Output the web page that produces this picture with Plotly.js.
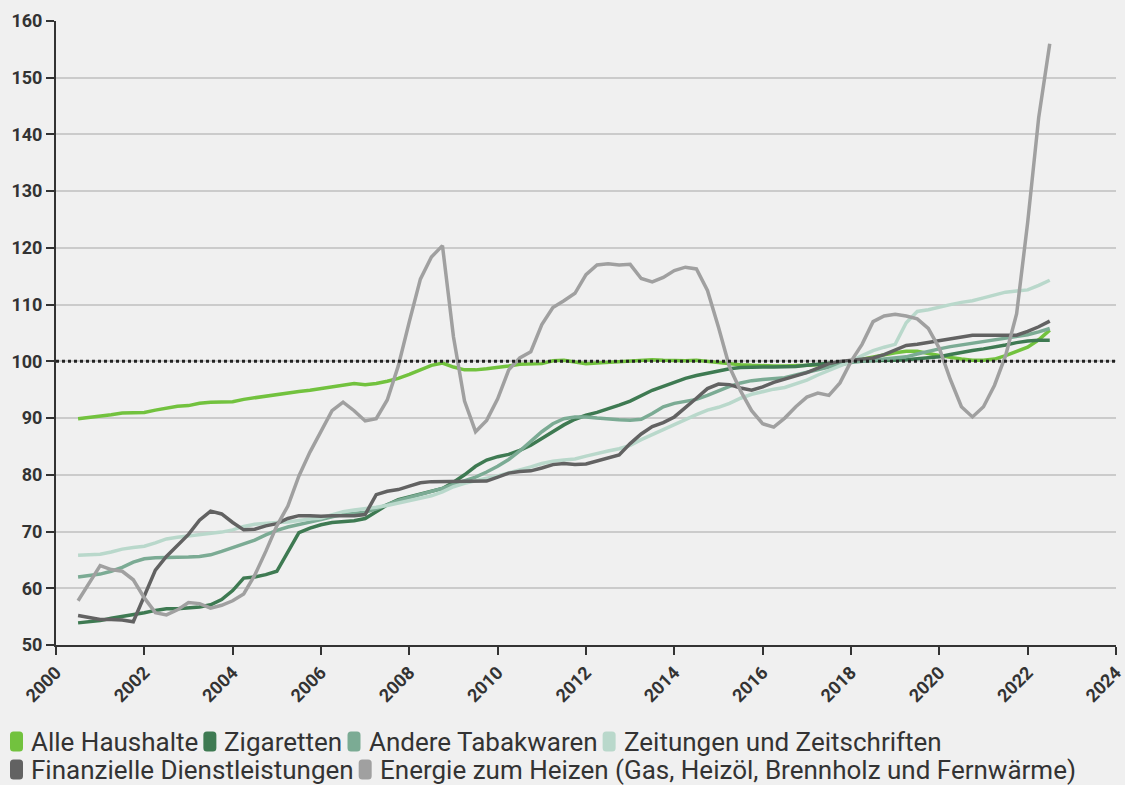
<!DOCTYPE html>
<html>
<head>
<meta charset="utf-8">
<script src="https://cdn.plot.ly/plotly-3.0.1.min.js"></script>
<style>
html,body{margin:0;padding:0;background:#f0f0f0;}
#chart{width:1125px;height:785px;}
</style>
</head>
<body>
<div id="chart"></div>
<script>
// Quarterly observations, first at 2000.5, last at 2022.5
const startYear = 2000.5;
const stepYears = 0.25;

const seriesNames = [
  "Alle Haushalte",
  "Zigaretten",
  "Andere Tabakwaren",
  "Zeitungen und Zeitschriften",
  "Finanzielle Dienstleistungen",
  "Energie zum Heizen (Gas, Heizöl, Brennholz und Fernwärme)"
];

const alleHaushalte = [
  89.9,90.1,90.3,90.6,90.9,91.0,91.0,91.4,91.8,92.1,92.2,92.6,92.8,92.8,92.9,93.3,93.6,93.9,94.1,94.5,
  94.7,94.9,95.2,95.6,95.9,96.1,95.9,96.1,96.5,97.0,97.7,98.5,99.3,99.7,99.0,98.5,98.5,98.7,98.9,99.2,
  99.5,99.5,99.6,100.1,100.2,99.9,99.6,99.7,99.8,99.9,100.0,100.2,100.3,100.2,100.1,100.1,100.2,100.0,99.7,99.5,
  99.4,99.3,99.2,99.2,99.2,99.2,99.3,99.4,99.6,99.8,100.0,100.4,100.8,101.2,101.5,101.8,101.8,101.4,101.0,100.7,
  100.4,100.2,100.2,100.4,101.0,101.8,102.5,103.8,105.5
];

const zigaretten = [
  53.9,54.1,54.3,54.7,55.0,55.3,55.7,56.1,56.4,56.4,56.5,56.7,57.1,58.0,59.6,61.8,62.0,62.4,63.0,66.5,
  69.8,70.6,71.2,71.6,71.8,71.9,72.3,73.5,74.7,75.6,76.1,76.6,77.0,77.6,78.7,80.0,81.5,82.6,83.2,83.6,
  84.3,85.2,86.4,87.6,88.8,89.8,90.5,91.0,91.6,92.3,93.0,94.0,94.9,95.6,96.3,97.0,97.5,97.9,98.3,98.7,
  98.9,99.0,99.0,99.0,99.0,99.1,99.3,99.5,99.7,99.9,100.0,100.1,100.1,100.2,100.2,100.3,100.5,100.6,100.8,101.2,
  101.6,101.9,102.2,102.5,102.9,103.3,103.6,103.7,103.7
];

const andereTabakwaren = [
  62.0,62.2,62.5,63.0,63.7,64.6,65.2,65.4,65.4,65.4,65.5,65.6,65.9,66.5,67.2,67.8,68.5,69.4,70.2,70.8,
  71.2,71.6,72.1,72.6,73.0,73.2,73.4,74.0,74.8,75.5,76.0,76.5,77.0,77.6,78.3,78.9,79.6,80.5,81.5,82.7,
  84.2,85.9,87.6,89.0,89.9,90.2,90.2,90.0,89.8,89.7,89.6,89.8,90.8,92.0,92.6,93.0,93.3,94.0,94.8,95.6,
  96.2,96.6,96.8,96.9,97.1,97.6,98.1,98.6,99.0,99.4,99.8,100.0,100.2,100.4,100.6,100.8,101.3,101.8,102.2,102.6,
  102.9,103.2,103.5,103.8,104.1,104.4,104.7,105.2,105.8
];

const zeitungen = [
  65.8,65.9,66.0,66.4,66.9,67.2,67.4,68.0,68.7,69.0,69.2,69.5,69.7,69.9,70.3,70.9,71.3,71.5,71.6,71.7,
  72.0,72.2,72.4,73.0,73.5,73.8,74.0,74.3,74.6,75.0,75.5,75.9,76.3,77.0,77.9,78.5,79.0,79.4,79.8,80.3,
  80.8,81.4,82.0,82.4,82.6,82.8,83.3,83.8,84.2,84.6,85.2,86.2,87.1,87.9,88.8,89.8,90.6,91.4,91.9,92.6,
  93.5,94.2,94.7,95.1,95.4,96.0,96.7,97.6,98.4,99.2,100.0,101.0,101.9,102.5,103.0,106.8,108.8,109.1,109.6,110.0,
  110.4,110.7,111.2,111.7,112.2,112.4,112.6,113.4,114.3
];

const finanzielle = [
  55.2,54.9,54.5,54.5,54.4,54.1,58.5,63.2,65.6,67.5,69.5,72.0,73.6,73.1,71.6,70.3,70.4,71.0,71.4,72.3,
  72.8,72.8,72.7,72.8,72.8,72.8,73.0,76.5,77.1,77.4,78.0,78.6,78.8,78.8,78.8,78.8,78.8,78.9,79.6,80.3,
  80.6,80.7,81.2,81.8,82.0,81.8,81.9,82.4,83.0,83.5,85.5,87.2,88.5,89.2,90.2,91.8,93.5,95.2,96.0,95.9,
  95.3,94.9,95.5,96.3,96.9,97.4,98.0,98.8,99.6,100.0,100.2,100.3,100.6,101.2,102.0,102.8,103.0,103.3,103.6,103.9,
  104.3,104.6,104.6,104.6,104.5,104.6,105.3,106.1,107.1
];

const energie = [
  57.8,61.0,64.0,63.3,63.0,61.5,58.3,55.7,55.3,56.2,57.5,57.3,56.5,57.0,57.8,59.0,62.3,66.5,71.0,74.5,
  79.8,84.0,87.8,91.3,92.8,91.3,89.5,89.9,93.2,99.2,107.0,114.5,118.4,120.4,104.3,93.0,87.6,89.6,93.4,98.5,
  100.6,101.7,106.5,109.5,110.7,112.0,115.3,117.0,117.2,117.0,117.1,114.6,114.0,114.8,116.0,116.6,116.3,112.5,106.0,99.0,
  94.8,91.3,89.0,88.4,90.0,92.0,93.7,94.4,94.0,96.2,100.0,103.0,107.0,108.0,108.3,108.0,107.5,105.8,102.3,96.8,
  92.0,90.2,92.0,95.8,101.0,108.4,124.5,143.0,156.0
];

const seriesColors = ["#72c23e", "#3e7a52", "#7bab94", "#b9d8cb", "#626262", "#a0a0a0"];

const xRange = [2000, 2024];
const xTickStart = 2000, xTickStep = 2;
const yRange = [50, 160];
const yTickStep = 10;

const allSeries = [alleHaushalte, zigaretten, andereTabakwaren, zeitungen, finanzielle, energie];
const xs = alleHaushalte.map((_, i) => startYear + i * stepYears);

const traces = allSeries.map((vals, i) => ({
  type: 'scatter',
  mode: 'lines',
  name: seriesNames[i],
  x: xs,
  y: vals,
  line: {color: seriesColors[i], width: 3.5, shape: 'linear'},
  showlegend: false,
  hoverinfo: 'x+y+name'
}));

// geometry (pixels)
const W = 1125, H = 785;
const M = {l: 56, r: 9, t: 21, b: 140};
const plotW = W - M.l - M.r, plotH = H - M.t - M.b;
const px2paperX = p => (p - M.l) / plotW;
const px2paperY = p => (H - M.b - p) / plotH;

// custom legend (wrapping rows, rounded square swatches)
const legendFont = 'Roboto';
const legendSize = 26;
const cv = document.createElement('canvas').getContext('2d');
cv.font = legendSize + 'px ' + legendFont;
const rowsY = [741.5, 769.5];
const rowsItems = [[0,1,2,3],[4,5]];
const annotations = [];
const shapes = [];
rowsItems.forEach((row, r) => {
  let x = 10;
  row.forEach(idx => {
    const sw = 13, sh = 20, rad = 3.5;
    const cy = rowsY[r];
    const x0 = x, x1 = x + sw, y0 = cy - sh/2, y1 = cy + sh/2;
    const X = px2paperX, Y = px2paperY;
    const path = `M ${X(x0+rad)} ${Y(y0)} L ${X(x1-rad)} ${Y(y0)} Q ${X(x1)} ${Y(y0)} ${X(x1)} ${Y(y0+rad)} ` +
                 `L ${X(x1)} ${Y(y1-rad)} Q ${X(x1)} ${Y(y1)} ${X(x1-rad)} ${Y(y1)} ` +
                 `L ${X(x0+rad)} ${Y(y1)} Q ${X(x0)} ${Y(y1)} ${X(x0)} ${Y(y1-rad)} ` +
                 `L ${X(x0)} ${Y(y0+rad)} Q ${X(x0)} ${Y(y0)} ${X(x0+rad)} ${Y(y0)} Z`;
    shapes.push({type: 'path', xref: 'paper', yref: 'paper', path: path,
                 fillcolor: seriesColors[idx], line: {width: 0}});
    const tx = x1 + 7;
    annotations.push({xref: 'paper', yref: 'paper', x: px2paperX(tx), y: px2paperY(cy),
      xanchor: 'left', yanchor: 'middle', showarrow: false, text: seriesNames[idx],
      font: {family: legendFont, size: legendSize, color: '#333333'}, borderpad: 0});
    const tw = cv.measureText(seriesNames[idx]).width;
    x = tx + tw + 6;
  });
});

// reference line at 100
shapes.push({type: 'line', xref: 'paper', yref: 'y', x0: 0, x1: 1, y0: 100, y1: 100,
  line: {color: '#222222', width: 3, dash: 'dot'}, layer: 'above'});

const tickFont = {family: 'Roboto', size: 18, color: '#333333', weight: 'bold'};

const layout = {
  width: W, height: H,
  margin: M,
  paper_bgcolor: '#f0f0f0',
  plot_bgcolor: '#f0f0f0',
  showlegend: false,
  font: {family: 'Roboto', color: '#333333'},
  xaxis: {
    range: xRange,
    tickmode: 'linear', tick0: xTickStart, dtick: xTickStep,
    tickformat: 'd',
    tickangle: -45,
    showgrid: false, zeroline: false,
    showline: true, linecolor: '#333333', linewidth: 2,
    ticks: 'outside', ticklen: 8, tickwidth: 2, tickcolor: '#333333',
    tickfont: tickFont,
    ticklabeloverflow: 'allow',
    automargin: false
  },
  yaxis: {
    range: yRange,
    tickmode: 'linear', tick0: yRange[0], dtick: yTickStep,
    showgrid: true, gridcolor: '#cbcbcb', gridwidth: 2,
    zeroline: false,
    showline: true, linecolor: '#333333', linewidth: 2,
    ticks: 'outside', ticklen: 8, tickwidth: 2, tickcolor: '#333333',
    tickfont: tickFont,
    automargin: false
  },
  shapes: shapes,
  annotations: annotations
};

Plotly.newPlot('chart', traces, layout, {displayModeBar: false, staticPlot: true});
</script>
</body>
</html>
